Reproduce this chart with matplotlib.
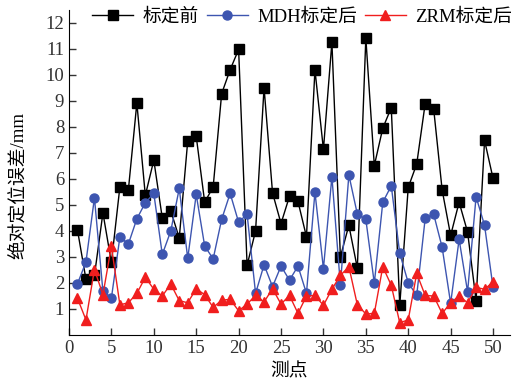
import matplotlib
matplotlib.use("Agg")
import matplotlib.pyplot as plt
import numpy as np

plt.rcParams['font.family'] = ['Liberation Serif', 'Noto Sans CJK SC']

# measurement points
points = np.arange(1, 51)

# absolute positioning error (mm)
before = [4.03, 2.13, 2.28, 4.69, 2.78, 5.69, 5.57, 8.92, 5.36, 6.72,
          4.49, 4.77, 3.72, 7.46, 7.64, 5.10, 5.69, 9.28, 10.2, 10.98,
          2.67, 4.0, 9.51, 5.46, 4.28, 5.33, 5.13, 3.77, 10.2, 7.13,
          11.26, 3.0, 4.21, 2.56, 11.42, 6.51, 7.95, 8.74, 1.13, 5.67,
          6.57, 8.9, 8.69, 5.57, 3.82, 5.10, 3.95, 1.31, 7.48, 6.02]
mdh = [1.96, 2.8, 5.27, 1.67, 1.41, 3.76, 3.49, 4.46, 5.08, 5.44,
       3.09, 3.99, 5.63, 2.94, 5.4, 3.41, 2.92, 4.44, 5.44, 4.33,
       4.64, 1.59, 2.69, 1.85, 2.64, 2.1, 2.64, 1.59, 5.49, 2.54,
       6.08, 1.92, 6.15, 4.64, 4.44, 1.98, 5.1, 5.73, 3.13, 2.0,
       1.51, 4.48, 4.64, 3.36, 1.21, 3.67, 1.65, 5.31, 4.21, 1.82]
zrm = [1.4, 0.57, 2.51, 1.54, 3.41, 1.15, 1.23, 1.59, 2.21, 1.75,
       1.49, 1.95, 1.31, 1.23, 1.77, 1.54, 1.05, 1.33, 1.36, 0.92,
       1.18, 1.51, 1.26, 1.77, 1.18, 1.51, 0.82, 1.49, 1.51, 1.13,
       1.75, 2.28, 2.62, 1.15, 0.8, 0.82, 2.62, 1.9, 0.46, 0.57,
       2.36, 1.51, 1.49, 0.82, 1.23, 1.49, 1.23, 1.82, 1.75, 2.03]

fig = plt.figure(figsize=(5.12, 3.82), dpi=100)
ax = fig.add_axes([69/512, 1 - 334.7/382, 441/512, 324.7/382])

ax.plot(points, before, color='black', lw=1, marker='s', ms=6.5, label='标定前')
ax.plot(points, mdh, color='#3d55b0', lw=1, marker='o', ms=6.5, label='MDH标定后')
ax.plot(points, zrm, color='#f01e1e', lw=1, marker='^', ms=7, label='ZRM标定后')

ax.set_xlim(0, 52)
ax.set_ylim(0, 12.5)
ax.set_xticks(range(0, 51, 5))
ax.set_yticks(range(1, 13))
ax.tick_params(direction='in', labelsize=13.5, length=5, width=1, colors='#333333')
ax.spines['top'].set_visible(False)
ax.spines['right'].set_visible(False)
ax.set_xlabel('测点', fontsize=13.5)
ax.set_ylabel('绝对定位误差/mm', fontsize=13.5)
ax.xaxis.set_label_coords(0.5, -0.088)
ax.yaxis.set_label_coords(-0.095, 0.46)

fig.legend(loc='center', bbox_to_anchor=(0.59, 0.955), ncol=3, frameon=False,
           fontsize=13.5, handlelength=2.2, handletextpad=0.5, columnspacing=0.4,
           borderaxespad=0)

fig.savefig('out.png')
